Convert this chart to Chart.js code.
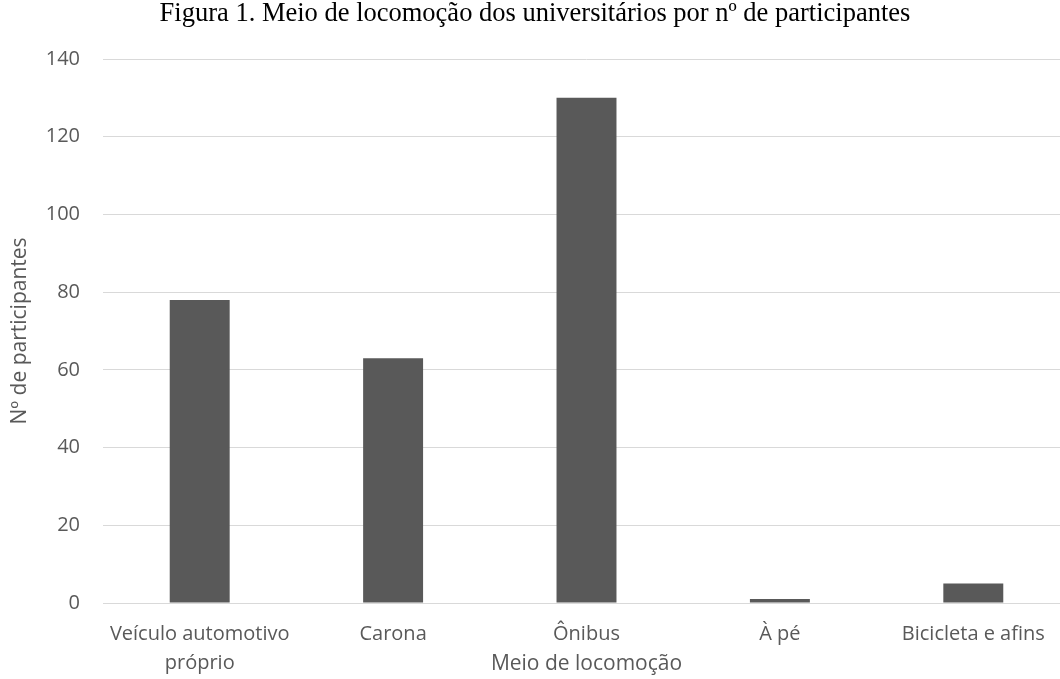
<!DOCTYPE html>
<html lang="pt-BR">
<head>
<meta charset="UTF-8">
<title>Meio de locomoção dos universitários</title>
<script src="https://cdn.jsdelivr.net/npm/chart.js@4.4.1/dist/chart.umd.min.js"></script>
<style>
    html, body { margin: 0; padding: 0; background: #ffffff; overflow: hidden; }
    #chartWrap { position: absolute; left: 0; top: 0; width: 1070px; height: 679px; }
</style>
</head>
<body>
<div id="chartWrap">
    <canvas id="locomocaoChart" width="1070" height="679"></canvas>
</div>
<script>
// --- Chart Data ---
const categorias = [['Veículo automotivo', 'próprio'], 'Carona', 'Ônibus', 'À pé', 'Bicicleta e afins'];
const participantes = [78, 63, 130, 1, 5];
const yMin = 0;
const yMax = 140;
const yStep = 20;

const tituloGrafico = 'Figura 1. Meio de locomoção dos universitários por nº de participantes';
const tituloEixoX = 'Meio de locomoção';
const tituloEixoY = 'Nº de participantes';

// --- Styles ---
const corBarra = '#595959';
const corTexto = '#595959';
const corGrade = '#d9d9d9';
const fonteEixo = '"Open Sans", Lato, sans-serif';

function renderLocomocaoChart() {
    const ctx = document.getElementById('locomocaoChart');
    if (!ctx) { console.error("Canvas 'locomocaoChart' not found."); return; }

    new Chart(ctx, {
        type: 'bar',
        data: {
            labels: categorias,
            datasets: [{
                label: tituloEixoY,
                data: participantes,
                backgroundColor: corBarra,
                borderWidth: 0,
                categoryPercentage: 1.0,
                barPercentage: 0.31
            }]
        },
        options: {
            responsive: false,
            animation: false,
            devicePixelRatio: 1,
            layout: { padding: 0 },
            plugins: {
                legend: { display: false },
                tooltip: { enabled: false },
                title: {
                    display: true,
                    text: tituloGrafico,
                    color: '#000000',
                    font: { family: '"Liberation Serif", "Times New Roman", serif', size: 26.5, weight: 'normal', lineHeight: 1 },
                    padding: { top: 1, bottom: 31.5 }
                }
            },
            scales: {
                x: {
                    grid: { display: false },
                    border: { display: true, color: corGrade },
                    ticks: {
                        color: corTexto,
                        padding: 9,
                        maxRotation: 0,
                        autoSkip: false,
                        font: { family: fonteEixo, size: 20, lineHeight: 1.45 }
                    },
                    title: {
                        display: true,
                        text: tituloEixoX,
                        color: corTexto,
                        font: { family: fonteEixo, size: 21, lineHeight: 1.2 },
                        padding: { top: 0, bottom: 2.4 }
                    },
                    afterFit: (scale) => { scale.height = 76; }
                },
                y: {
                    min: yMin,
                    max: yMax,
                    grid: { color: corGrade, drawTicks: false },
                    border: { display: false },
                    ticks: {
                        stepSize: yStep,
                        color: corTexto,
                        padding: 23,
                        font: { family: fonteEixo, size: 20 }
                    },
                    title: {
                        display: true,
                        text: tituloEixoY,
                        color: corTexto,
                        font: { family: fonteEixo, size: 21, lineHeight: 1.2 },
                        padding: { top: 7.4, bottom: 0 }
                    },
                    afterFit: (scale) => { scale.width = 103; }
                }
            }
        }
    });
}

document.addEventListener('DOMContentLoaded', () => {
    renderLocomocaoChart();
});
</script>
</body>
</html>
